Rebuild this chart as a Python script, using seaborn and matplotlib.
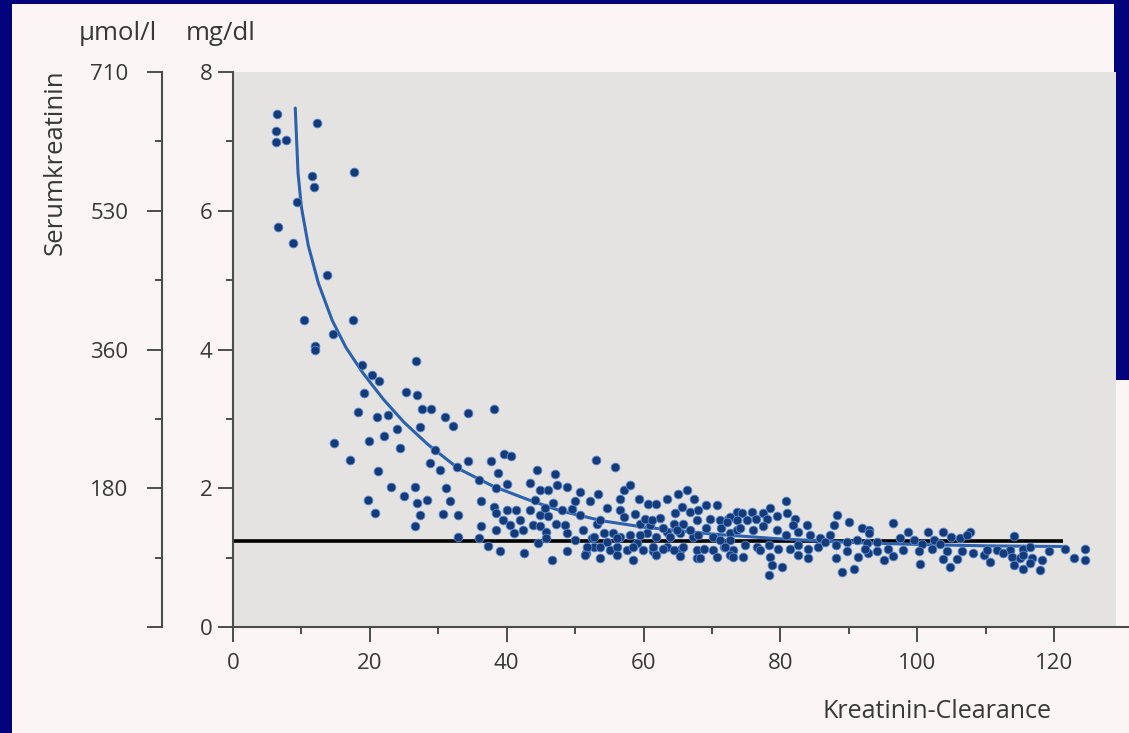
import matplotlib
matplotlib.use("Agg")
import matplotlib.pyplot as plt
import seaborn as sns
import pandas as pd
from matplotlib.patches import Rectangle

# Creatinine clearance (x) vs. serum creatinine in mg/dl (y)
clearance = [
    6.4, 6.3, 6.3, 7.7, 12.3, 11.5, 11.9, 17.7, 9.4, 6.6, 8.8, 13.7, 10.4, 17.5, 14.6, 12.0, 12.0, 26.8,
    18.8, 20.3, 21.3, 19.2, 25.3, 26.9, 27.6, 28.9, 31.0, 32.1, 18.3, 21.1, 22.6, 27.3, 24.0, 22.0,
    14.7, 19.9, 24.4, 29.5, 17.1, 28.8, 30.2, 32.8, 21.2, 23.1, 26.6, 31.1, 25.0, 19.8, 26.9, 28.4,
    31.7, 20.8, 27.4, 30.7, 26.6, 32.9, 32.9,
    34.4, 38.2, 34.4, 37.7, 39.6, 40.7, 38.8, 36.0, 40.1, 38.5, 36.3, 36.3, 37.3, 39.0, 38.2, 38.5,
    40.0, 39.5, 41.4, 40.5, 42.0, 41.0, 38.5, 42.5, 42.4, 44.4, 47.0, 43.4, 44.8, 46.1, 47.3, 48.8,
    50.7, 53.1, 55.8, 53.4, 44.2, 46.8, 43.4, 44.8, 43.9, 44.9, 45.8, 46.1, 47.2, 48.5, 49.5, 50.0,
    51.2, 52.2, 44.6, 46.6, 48.8, 50.0, 51.6, 52.7, 53.7, 54.2, 54.6, 54.6, 56.6, 57.1, 57.1, 58.0,
    56.6, 55.6, 56.6, 57.6, 58.5, 59.3, 60.7, 61.9, 63.4, 65.1, 66.3, 59.5, 60.9, 62.4, 64.4, 65.8,
    60.5, 61.9, 63.4, 65.4, 67.3, 59.0, 59.9, 61.4, 63.4, 65.4, 67.8, 67.8,
    36.0, 45.6, 48.1, 50.7, 48.8, 45.8, 52.4, 53.2,
    67.4, 69.2, 70.7, 58.8, 60.2, 61.2, 53.7, 64.6, 65.6, 66.8, 68.0, 67.8, 69.7, 71.2, 72.4, 73.6,
    52.7, 56.1, 58.0, 59.5, 62.9, 63.9, 64.9, 66.8, 68.0, 69.2, 70.2, 71.4, 72.7, 73.6, 51.7, 53.7,
    55.1, 56.1, 58.5, 61.4, 62.9, 64.4, 65.8, 68.8, 70.2, 71.7, 73.1, 51.5, 56.1, 61.9, 65.4, 68.3,
    70.7, 72.7,
    80.9, 81.0, 78.5, 74.4, 75.8, 77.4, 72.7, 72.2, 73.6, 75.1, 76.5, 78.0, 79.5, 82.2, 83.9, 81.9,
    88.3, 90.0, 87.8, 91.9, 92.9, 71.2, 72.7, 74.1, 76.0, 77.5, 79.5, 80.9, 82.6, 84.4, 85.8, 87.3,
    71.9, 74.9, 76.6, 78.3, 79.7, 81.4, 82.6, 84.1, 85.5, 86.5, 88.2, 89.7, 91.2, 92.7, 94.1, 73.1,
    74.6, 77.0, 78.5, 82.6, 84.1, 88.2, 89.8, 91.4, 92.8, 78.8, 80.2, 78.3, 89.0, 90.7,
    96.5, 98.7, 101.6, 103.8, 105.0, 107.7, 93.0, 97.5, 99.5, 100.7, 102.4, 103.4, 106.3, 107.3,
    92.4, 94.1, 95.8, 98.0, 100.2, 102.1, 104.3, 106.5, 108.2, 109.7, 95.1, 96.5, 100.4, 103.8,
    105.8, 104.8,
    114.1, 110.2, 111.6, 113.6, 115.5, 116.5, 119.2, 121.6, 124.6, 124.6, 122.9, 110.7, 113.8,
    115.1, 116.8, 118.2, 114.1, 115.5, 118.0, 116.5, 115.5, 112.6,
]
kreatinin = [
    7.39, 7.15, 6.99, 7.02, 7.26, 6.50, 6.34, 6.56, 6.12, 5.77, 5.54, 5.07, 4.42, 4.43, 4.22, 4.05, 3.99, 3.83,
    3.78, 3.63, 3.54, 3.38, 3.39, 3.35, 3.14, 3.14, 3.02, 2.90, 3.10, 3.02, 3.05, 2.89, 2.86, 2.76,
    2.65, 2.68, 2.58, 2.55, 2.41, 2.36, 2.27, 2.31, 2.25, 2.02, 2.02, 2.01, 1.89, 1.83, 1.79, 1.83,
    1.82, 1.65, 1.61, 1.63, 1.45, 1.61, 1.30,
    3.08, 3.14, 2.39, 2.39, 2.49, 2.46, 2.22, 2.12, 2.06, 2.00, 1.82, 1.46, 1.17, 1.10, 1.73, 1.64,
    1.69, 1.54, 1.69, 1.47, 1.54, 1.36, 1.40, 1.06, 1.40, 2.26, 2.20, 2.08, 1.97, 1.98, 2.05, 2.02,
    1.95, 2.41, 2.31, 1.92, 1.83, 1.79, 1.69, 1.61, 1.47, 1.45, 1.37, 1.60, 1.49, 1.47, 1.70, 1.81,
    1.40, 1.81, 1.21, 0.96, 1.10, 1.25, 1.07, 1.16, 0.99, 1.36, 1.23, 1.71, 1.69, 1.59, 1.98, 2.05,
    1.85, 1.36, 1.30, 1.11, 0.97, 1.84, 1.77, 1.77, 1.85, 1.92, 1.97, 1.49, 1.47, 1.57, 1.49, 1.49,
    1.35, 1.30, 1.37, 1.35, 1.30, 1.21, 1.11, 1.09, 1.16, 1.11, 1.11, 0.99,
    1.28, 1.72, 1.69, 1.61, 1.35, 1.28, 1.28, 1.49,
    1.84, 1.76, 1.76, 1.63, 1.56, 1.54, 1.54, 1.64, 1.73, 1.66, 1.69, 1.54, 1.56, 1.54, 1.56, 1.66,
    1.30, 1.28, 1.33, 1.33, 1.42, 1.30, 1.40, 1.40, 1.33, 1.42, 1.30, 1.42, 1.35, 1.40, 1.16, 1.16,
    1.11, 1.16, 1.16, 1.16, 1.13, 1.11, 1.16, 1.13, 1.11, 1.16, 1.11, 1.04, 1.04, 1.04, 1.02, 0.99,
    1.01, 1.04,
    1.81, 1.64, 1.71, 1.65, 1.66, 1.64, 1.59, 1.52, 1.54, 1.54, 1.56, 1.56, 1.60, 1.55, 1.47, 1.47,
    1.61, 1.52, 1.47, 1.42, 1.40, 1.25, 1.25, 1.42, 1.40, 1.45, 1.40, 1.33, 1.37, 1.33, 1.28, 1.33,
    1.16, 1.18, 1.16, 1.18, 1.13, 1.13, 1.18, 1.13, 1.16, 1.23, 1.18, 1.23, 1.25, 1.21, 1.23, 1.01,
    1.01, 1.11, 1.01, 1.04, 0.99, 0.99, 1.09, 1.01, 1.06, 0.89, 0.87, 0.75, 0.80, 0.84,
    1.50, 1.37, 1.37, 1.37, 1.30, 1.37, 1.35, 1.28, 1.25, 1.20, 1.25, 1.20, 1.28, 1.33,
    1.13, 1.09, 1.13, 1.11, 1.09, 1.13, 1.09, 1.09, 1.06, 1.04, 0.97, 1.02, 0.91, 0.98,
    0.98, 0.86,
    1.31, 1.11, 1.11, 1.11, 1.13, 1.16, 1.09, 1.13, 1.12, 0.97, 0.99, 0.94, 1.01,
    0.99, 0.99, 0.97, 0.89, 0.84, 0.82, 0.92, 1.04, 1.06,
]

# Fitted regression curve
fit_clearance = [9.1, 9.5, 10.0, 11.0, 12.5, 14.5, 16.5, 19.0, 22.0, 25.0, 28.5, 33.0, 38.0,
                 43.0, 48.0, 54.0, 60.0, 70.0, 80.0, 90.0, 100.0, 110.0, 121.5]
fit_kreatinin = [7.48, 6.55, 6.05, 5.50, 4.95, 4.42, 4.03, 3.66, 3.28, 2.95, 2.63, 2.28, 2.03,
                 1.84, 1.67, 1.53, 1.44, 1.34, 1.27, 1.22, 1.19, 1.17, 1.16]

# Upper normal limit
ref_level = 1.24
ref_end = 121.3

x_ticks = [0, 20, 40, 60, 80, 100, 120]
x_minor = [10, 30, 50, 70, 90, 110]
mgdl_ticks = [0, 2, 4, 6, 8]
mgdl_labels = ["0", "2", "4", "6", "8"]
mgdl_minor = [1, 3, 5, 7]
umol_labels = ["", "180", "360", "530", "710"]

NAVY = "#03037e"
PAGE = "#fbf5f5"
GRAY = "#e5e3e2"
AXIS = "#4a4e4a"
TEXT = "#363936"
DOT = "#143a78"
HALO = "#5a8ad0"
CURVE = "#2c61ad"

sns.set_theme(style="white")
plt.rcParams["font.family"] = ["Open Sans", "DejaVu Sans"]

W, H = 1129, 733
fig = plt.figure(figsize=(W / 100, H / 100), dpi=100, facecolor=NAVY)
fig.patches.append(Rectangle((12 / W, 0), (W - 12) / W, (H - 4) / H, transform=fig.transFigure,
                             facecolor=PAGE, edgecolor="none", zorder=-10))
fig.patches.append(Rectangle((1114 / W, (H - 380) / H), (W - 1114) / W, 380 / H,
                             transform=fig.transFigure, facecolor=NAVY, edgecolor="none",
                             zorder=-9))

ax = fig.add_axes([233 / W, (H - 627) / H, (W - 233) / W, (627 - 72) / H])
ax.set_facecolor("none")
px_per_unit = 821 / 120
ax.set_xlim(0, (W - 233) / px_per_unit)
ax.set_ylim(0, 8)
ax.axvspan(0, (1116 - 233) / px_per_unit, color=GRAY, lw=0, zorder=0)

ax.hlines(ref_level, 0, ref_end, color="black", lw=2.6, zorder=2)
sns.lineplot(x=fit_clearance, y=fit_kreatinin, ax=ax, color=CURVE, lw=2.2, sort=False,
             estimator=None, zorder=3)
df = pd.DataFrame({"clearance": clearance, "kreatinin": kreatinin})
sns.scatterplot(data=df, x="clearance", y="kreatinin", ax=ax, s=40, color=DOT,
                edgecolor=HALO, linewidth=0.6, zorder=4)

for side in ("top", "right"):
    ax.spines[side].set_visible(False)
for side in ("left", "bottom"):
    ax.spines[side].set_color(AXIS)
    ax.spines[side].set_linewidth(1.5)

ax.set_xticks(x_ticks)
ax.set_xticks(x_minor, minor=True)
ax.set_yticks(mgdl_ticks, labels=mgdl_labels)
ax.set_yticks(mgdl_minor, minor=True)
ax.tick_params(which="both", bottom=True, left=True, direction="out", color=AXIS, width=1.4,
               labelcolor=TEXT, labelsize=16)
ax.tick_params(which="major", length=11)
ax.tick_params(which="minor", length=5)
ax.tick_params(axis="x", pad=8)
ax.tick_params(axis="y", pad=4)
ax.set_xlabel("")
ax.set_ylabel("")

sec = ax.secondary_yaxis(-(233 - 162) / (W - 233))
sec.set_yticks(mgdl_ticks, labels=umol_labels)
sec.set_yticks(mgdl_minor, minor=True)
sec.spines["left"].set_color(AXIS)
sec.spines["left"].set_linewidth(1.5)
sec.tick_params(which="both", left=True, direction="out", color=AXIS, width=1.4,
                labelcolor=TEXT, labelsize=16)
sec.tick_params(which="major", length=11, pad=13)
sec.tick_params(which="minor", length=5)

fig.text(118 / W, 1 - 33 / H, "µmol/l", ha="center", va="center", fontsize=18.5, color=TEXT)
fig.text(221 / W, 1 - 33 / H, "mg/dl", ha="center", va="center", fontsize=18.5, color=TEXT)
fig.text(55 / W, 1 - 162 / H, "Serumkreatinin", ha="center", va="center", rotation=90,
         fontsize=18.5, color=TEXT)
fig.text(937 / W, 1 - 711 / H, "Kreatinin-Clearance", ha="center", va="center",
         fontsize=18, color=TEXT)

fig.savefig("out.png", dpi=100, facecolor=NAVY)
